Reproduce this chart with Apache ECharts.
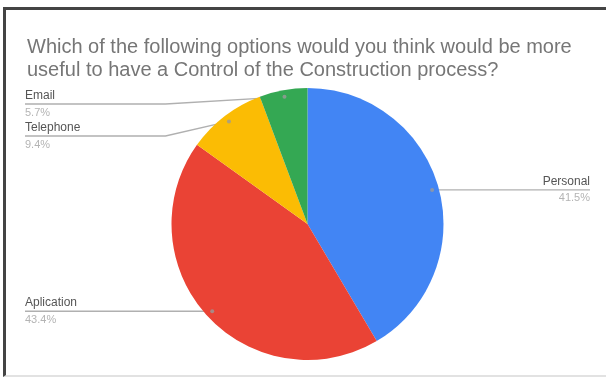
<!DOCTYPE html>
<html>
<head>
<meta charset="utf-8">
<script src="https://cdn.jsdelivr.net/npm/echarts@6/dist/echarts.min.js"></script>
<style>
  html, body { margin: 0; padding: 0; background: #fff; }
  #frame {
    position: absolute; left: 3px; top: 7px; width: 603px; height: 370px;
    border-top: 3px solid #444; border-left: 3px solid #444;
    border-bottom: 2px solid #e2e2e2; box-sizing: border-box;
  }
  #chart { position: absolute; left: 0; top: 0; width: 606px; height: 380px; }
</style>
</head>
<body>
<div id="frame"></div>
<div id="chart"></div>
<script>
// Survey answers, clockwise from 12 o'clock
const categories = ['Personal', 'Aplication', 'Telephone', 'Email'];
const shares = [41.5, 43.4, 9.4, 5.7];
const sliceColors = ['#4285F4', '#EA4335', '#FBBC04', '#34A853'];
const titleText = 'Which of the following options would you think would be more\nuseful to have a Control of the Construction process?';

const CX = 307.5, CY = 224, R = 136;
const DOT_FRACTION = 0.95;

const total = shares.reduce((a, b) => a + b, 0);
// mid-slice position (in share units) for every category
const midShares = [];
let acc = 0;
shares.forEach(v => { midShares.push(acc + v / 2); acc += v; });

// anchor dot on each slice, then leader-line levels pushed apart per side
const dots = midShares.map(m => {
  const t = 2 * Math.PI * m / total;
  return [CX + DOT_FRACTION * R * Math.sin(t), CY - DOT_FRACTION * R * Math.cos(t)];
});
const levels = new Array(shares.length);
[true, false].forEach(left => {
  const idx = dots.map((d, i) => i).filter(i => (dots[i][0] < CX) === left)
    .sort((a, b) => dots[a][1] - dots[b][1]);
  let prev = -Infinity;
  idx.forEach(i => {
    const y = Math.max(dots[i][1], prev + 32, 104);
    levels[i] = y; prev = y;
  });
});

const LEFT_EDGE = 25, RIGHT_EDGE = 590;

const chart = echarts.init(document.getElementById('chart'), null, { renderer: 'canvas' });
chart.setOption({
  animation: false,
  backgroundColor: 'transparent',
  title: {
    text: titleText,
    left: 22, top: 31,
    textStyle: {
      fontFamily: 'Liberation Sans, Arial, sans-serif',
      fontSize: 20, fontWeight: 'normal', color: '#767676', lineHeight: 23
    }
  },
  polar: { center: [CX, CY], radius: [0, R] },
  angleAxis: { type: 'value', min: 0, max: total, startAngle: 90, clockwise: true, show: false },
  radiusAxis: { type: 'value', min: 0, max: 1, show: false },
  series: [
    {
      type: 'pie',
      center: [CX, CY],
      radius: [0, R],
      startAngle: 90,
      clockwise: true,
      avoidLabelOverlap: false,
      silent: true,
      data: categories.map((c, i) => ({ name: c, value: shares[i], itemStyle: { color: sliceColors[i] } })),
      label: {
        show: true,
        position: 'outside',
        fontFamily: 'Liberation Sans, Arial, sans-serif',
        formatter: p => '{n|' + p.name + '}\n{p|' + p.value.toFixed(1) + '%}',
        rich: {
          n: { fontSize: 12, color: '#555', lineHeight: 17, fontFamily: 'Liberation Sans, Arial, sans-serif' },
          p: { fontSize: 11, color: '#b4b4b4', lineHeight: 17, fontFamily: 'Liberation Sans, Arial, sans-serif' }
        }
      },
      labelLine: { show: true, length: 10, length2: 10, smooth: false, lineStyle: { color: '#b0b0b0', width: 1.4 } },
      labelLayout: function (params) {
        const i = params.dataIndex;
        const d = dots[i];
        const y = levels[i];
        const left = d[0] < CX;
        const bendX = left ? CX - R - 6 : CX + R + 6;
        const endX = left ? LEFT_EDGE : RIGHT_EDGE;
        return {
          x: endX,
          y: y,
          align: left ? 'left' : 'right',
          verticalAlign: 'middle',
          labelLinePoints: [[d[0], d[1]], [bendX, y], [endX, y]]
        };
      }
    },
    {
      type: 'scatter',
      coordinateSystem: 'polar',
      silent: true,
      z: 5,
      symbolSize: 4,
      itemStyle: { color: '#9a9a9a' },
      data: midShares.map(m => [DOT_FRACTION, m])
    }
  ]
});
</script>
</body>
</html>
